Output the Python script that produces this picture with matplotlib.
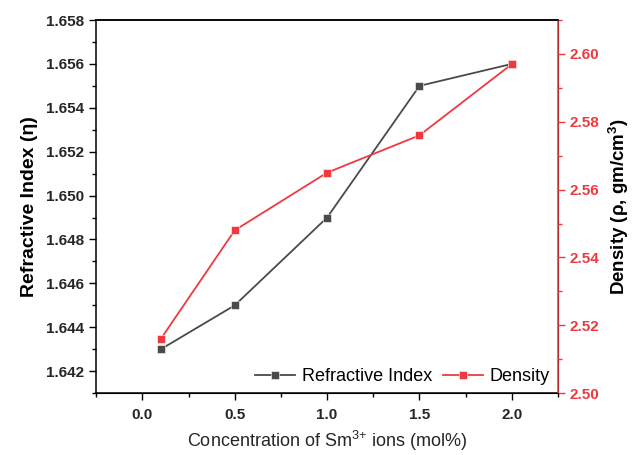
import matplotlib
matplotlib.use('Agg')
import matplotlib.pyplot as plt
from matplotlib.ticker import MultipleLocator

plt.rcParams['font.family'] = ['Liberation Sans', 'DejaVu Sans']
plt.rcParams['mathtext.fontset'] = 'custom'
plt.rcParams['mathtext.rm'] = 'Liberation Sans'
plt.rcParams['mathtext.bf'] = 'Liberation Sans:bold'

# data
conc = [0.1, 0.5, 1.0, 1.5, 2.0]
refr_index = [1.643, 1.645, 1.649, 1.655, 1.656]
density = [2.516, 2.548, 2.565, 2.576, 2.597]

black = '#4a4a4a'
red = '#ee3a3f'
txt = '#262626'

fig = plt.figure(figsize=(6.37, 4.55), dpi=100)
ax1 = fig.add_axes([0.151, 0.136, 0.725, 0.820])
ax2 = ax1.twinx()

l1, = ax1.plot(conc, refr_index, '-s', color=black, lw=1.3, ms=5.5,
               mec='white', mew=0.4, label='Refractive Index')
l2, = ax2.plot(conc, density, '-s', color=red, lw=1.3, ms=5.5,
               mec='white', mew=0.4, label='Density')

ax1.set_xlim(-0.25, 2.25)
ax1.set_ylim(1.641, 1.658)
ax2.set_ylim(2.50, 2.61)

ax1.xaxis.set_major_locator(MultipleLocator(0.5))
ax1.xaxis.set_minor_locator(MultipleLocator(0.25))
ax1.yaxis.set_major_locator(MultipleLocator(0.002))
ax1.yaxis.set_minor_locator(MultipleLocator(0.001))
ax2.yaxis.set_major_locator(MultipleLocator(0.02))
ax2.yaxis.set_minor_locator(MultipleLocator(0.01))
ax1.yaxis.set_major_formatter(plt.FormatStrFormatter('%.3f'))
ax2.yaxis.set_major_formatter(plt.FormatStrFormatter('%.2f'))

ax1.tick_params(which='major', direction='out', length=5, width=1, labelsize=11,
                color='black', labelcolor=txt)
ax1.tick_params(which='minor', direction='out', length=3, width=1)
ax1.tick_params(axis='x', pad=6)
ax2.tick_params(which='major', direction='out', length=5, width=1, labelsize=11, colors=red)
ax2.tick_params(which='minor', direction='out', length=3, width=1, colors=red)

for t in ax1.get_xticklabels() + ax1.get_yticklabels() + ax2.get_yticklabels():
    t.set_fontweight('bold')

for s in ['left', 'bottom', 'top']:
    ax1.spines[s].set_linewidth(1.1)
ax2.spines['right'].set_color(red)
ax2.spines['right'].set_linewidth(1.1)
ax2.spines['top'].set_linewidth(1.1)
ax2.spines['left'].set_visible(False)

ax1.set_xlabel('Concentration of Sm$^{\\mathregular{3{+}}}$ ions (mol%)', fontsize=13,
               labelpad=5, color=txt)
ax1.set_ylabel('Refractive Index (η)', fontsize=14, fontweight='bold', labelpad=6, color='black')
ax2.set_ylabel('Density (ρ, gm/cm$^{\\mathbf{3}}$)', fontsize=13.5, fontweight='bold',
               labelpad=5, color='black')

ax2.legend([l1, l2], ['Refractive Index', 'Density'], loc='lower right', ncol=2,
           frameon=False, fontsize=13, handlelength=2.2, columnspacing=0.6,
           handletextpad=0.4, borderaxespad=0.05)

fig.savefig('out.png', dpi=100)
